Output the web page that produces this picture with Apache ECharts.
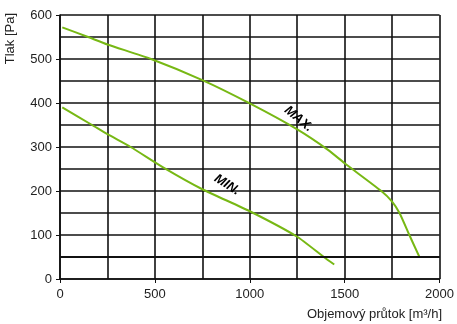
<!DOCTYPE html>
<html><head><meta charset="utf-8">
<script src="https://cdn.jsdelivr.net/npm/echarts@6/dist/echarts.min.js"></script>
<style>html,body{margin:0;padding:0;background:#fff}#c{width:457px;height:324px}</style>
</head><body><div id="c"></div>
<script>
var maxX = [12, 148, 250, 480, 750, 1000, 1250, 1414, 1500, 1693, 1750, 1789, 1841, 1895];
var maxY = [572, 550, 533, 500, 452, 399, 340, 293, 263, 200, 176, 150, 100, 49];
var minX = [12, 169, 250, 372, 550, 750, 1000, 1250, 1390, 1445];
var minY = [390, 350, 329, 300, 252, 204, 154, 96, 50, 33];
var xTicks = [0, 500, 1000, 1500, 2000];
var yTicks = [0, 100, 200, 300, 400, 500, 600];
var labels = [{text: 'MIN.', x: 880, y: 214, rot: 32}, {text: 'MAX.', x: 1257, y: 364, rot: 40}];

function pairs(xs, ys) { return xs.map(function (v, i) { return [v, ys[i]]; }); }
var FONT = 'Liberation Sans, Arial, sans-serif';
var gridLine = {show: true, lineStyle: {color: '#111', width: 1.6}};
var chart = echarts.init(document.getElementById('c'));
chart.setOption({
  animation: false,
  grid: {left: 60, right: 15, top: 15, bottom: 45},
  xAxis: {
    type: 'value', min: xTicks[0], max: xTicks[xTicks.length - 1], interval: 500,
    axisLine: {show: true, lineStyle: {color: '#111', width: 1.6}},
    axisTick: {show: true, length: 4, lineStyle: {color: '#111'}},
    minorTick: {show: false, splitNumber: 2},
    minorSplitLine: gridLine,
    splitLine: gridLine,
    axisLabel: {color: '#222', fontFamily: FONT, fontSize: 13, margin: 9,
      formatter: function (v) { return String(v); }}
  },
  yAxis: {
    type: 'value', min: yTicks[0], max: yTicks[yTicks.length - 1], interval: 100,
    axisLine: {show: true, lineStyle: {color: '#111', width: 1.6}},
    axisTick: {show: true, length: 4, lineStyle: {color: '#111'}},
    minorTick: {show: false, splitNumber: 2},
    minorSplitLine: gridLine,
    splitLine: gridLine,
    axisLabel: {color: '#222', fontFamily: FONT, fontSize: 13, margin: 8,
      formatter: function (v) { return String(v); }}
  },
  series: [
    {type: 'line', data: pairs(maxX, maxY), smooth: 0.2, symbol: 'none',
     lineStyle: {color: '#77b814', width: 2}},
    {type: 'line', data: pairs(minX, minY), smooth: 0.2, symbol: 'none',
     lineStyle: {color: '#77b814', width: 2},
     markLine: {silent: true, symbol: 'none', label: {show: false},
       lineStyle: {color: '#111', width: 2, type: 'solid'}, data: [{yAxis: 50}]}}
  ]
});
var g = [
  {type: 'text', left: 4, top: 13, rotation: Math.PI / 2,
   style: {text: 'Tlak [Pa]', font: '13px ' + FONT, fill: '#222'}},
  {type: 'text', right: 15, top: 308,
   style: {text: 'Objemový průtok [m³/h]', font: '13px ' + FONT, fill: '#222'}}
];
labels.forEach(function (l) {
  var p = chart.convertToPixel({gridIndex: 0}, [l.x, l.y]);
  g.push({type: 'text', x: p[0], y: p[1], rotation: -l.rot * Math.PI / 180,
    style: {text: l.text, font: 'italic bold 13px ' + FONT, fill: '#000',
      align: 'center', verticalAlign: 'middle'}});
});
chart.setOption({graphic: g});
</script></body></html>
